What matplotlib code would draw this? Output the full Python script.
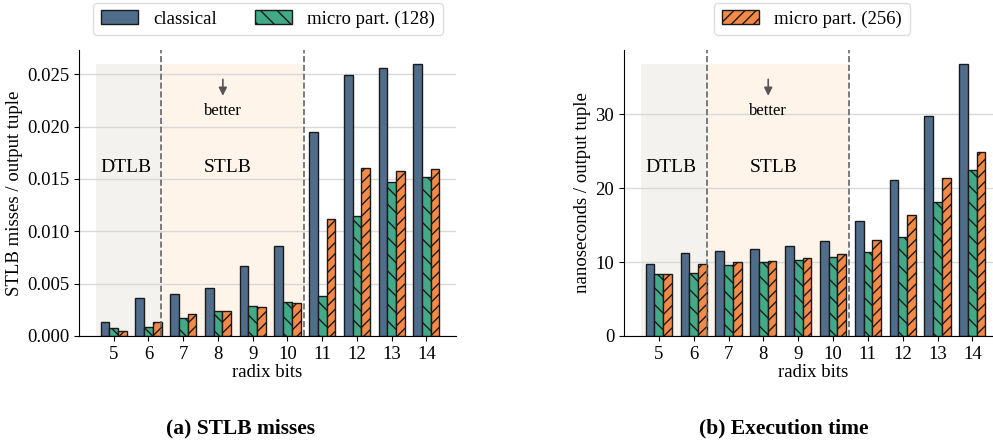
import matplotlib.pyplot as plt
import numpy as np

plt.rcParams['font.family'] = ['Liberation Serif', 'DejaVu Serif']
plt.rcParams['hatch.linewidth'] = 1.0

radix_bits = [5, 6, 7, 8, 9, 10, 11, 12, 13, 14]

stlb_classical = [0.00137, 0.00363, 0.00404, 0.00461, 0.00671, 0.00859, 0.0195, 0.02493, 0.02563, 0.02601]
stlb_micro128 = [0.00073, 0.00089, 0.00175, 0.00242, 0.00289, 0.00328, 0.00385, 0.01148, 0.01466, 0.01514]
stlb_micro256 = [0.00045, 0.00137, 0.0021, 0.00239, 0.00273, 0.00318, 0.01113, 0.016, 0.01577, 0.01596]

time_classical = [9.73, 11.18, 11.45, 11.76, 12.13, 12.85, 15.57, 21.13, 29.7, 36.85]
time_micro128 = [8.37, 8.46, 9.64, 10.05, 10.27, 10.68, 11.31, 13.39, 18.15, 22.4]
time_micro256 = [8.37, 9.73, 10.0, 10.14, 10.5, 11.04, 12.99, 16.38, 21.31, 24.93]

c_classical = "#506e8c"
c_128 = "#42aa87"
c_256 = "#f58948"

fig = plt.figure(figsize=(9.93, 4.45), dpi=100)
ax1 = fig.add_axes([79/993, 1-336/445, 377/993, 286/445])
ax2 = fig.add_axes([624/993, 1-336/445, 378/993, 286/445])

x = np.array(radix_bits, dtype=float)
w = 0.25
dtlb_end = 6.37
stlb_end = 10.47
fs = 13.5


def draw(ax, classical, m128, m256, ylabel, yfmt):
    top = max(classical)
    ax.fill_between([4.5, dtlb_end], 0, top, color="#f3f2ef", zorder=0.1, lw=0)
    ax.fill_between([dtlb_end, stlb_end], 0, top, color="#fef4ea", zorder=0.1, lw=0)
    ax.axvline(dtlb_end, color="#666666", ls="--", lw=1.2, zorder=3)
    ax.axvline(stlb_end, color="#666666", ls="--", lw=1.2, zorder=3)

    b1 = ax.bar(x - w, classical, w, color=c_classical, edgecolor="#1a1a1a", lw=1, label="classical", zorder=2)
    b2 = ax.bar(x, m128, w, color=c_128, edgecolor="#1a1a1a", lw=1, hatch="\\\\", label="micro part. (128)", zorder=2)
    b3 = ax.bar(x + w, m256, w, color=c_256, edgecolor="#1a1a1a", lw=1, hatch="///", label="micro part. (256)", zorder=2)

    ax.set_xlim(4.0, 14.85)
    ax.set_ylim(0, top * 1.05)
    ax.set_xticks(x)
    ax.set_xticklabels([str(r) for r in radix_bits])
    ax.yaxis.set_major_formatter(plt.FormatStrFormatter(yfmt))
    ax.set_axisbelow(True)
    ax.grid(axis="y", color="#d9d9d9", lw=1)
    ax.spines["top"].set_visible(False)
    ax.spines["right"].set_visible(False)
    ax.tick_params(labelsize=fs)
    ax.set_xlabel("radix bits", fontsize=fs, labelpad=1)
    ax.set_ylabel(ylabel, fontsize=fs, labelpad=3)

    tr = ax.get_xaxis_transform()
    ax.text(5.36, 0.59, "DTLB", transform=tr, ha="center", va="center", fontsize=14)
    ax.text(8.29, 0.59, "STLB", transform=tr, ha="center", va="center", fontsize=14)
    ax.text(8.14, 0.787, "better", transform=tr, ha="center", va="center", fontsize=12)
    ax.annotate("", xy=(8.14, 0.83), xytext=(8.14, 0.907), xycoords=tr, textcoords=tr,
                arrowprops=dict(arrowstyle="-|>", color="#555555", lw=1.2, mutation_scale=12))
    return b1, b2, b3


h1, h2, h3 = draw(ax1, stlb_classical, stlb_micro128, stlb_micro256, "STLB misses / output tuple", "%.3f")
draw(ax2, time_classical, time_micro128, time_micro256, "nanoseconds / output tuple", "%d")

fig.legend([h1, h2], ["classical", "micro part. (128)"], loc="center", ncol=2,
           bbox_to_anchor=(268/993, 1-19/445), fontsize=fs, framealpha=1, edgecolor="#dddddd")
fig.legend([h3], ["micro part. (256)"], loc="center",
           bbox_to_anchor=(812/993, 1-19/445), fontsize=fs, framealpha=1, edgecolor="#dddddd")

fig.text(240/993, 1-428/445, "(a) STLB misses", ha="center", va="center", fontsize=15.5, fontweight="bold")
fig.text(784/993, 1-428/445, "(b) Execution time", ha="center", va="center", fontsize=15.5, fontweight="bold")

plt.savefig("out.png", dpi=100)
